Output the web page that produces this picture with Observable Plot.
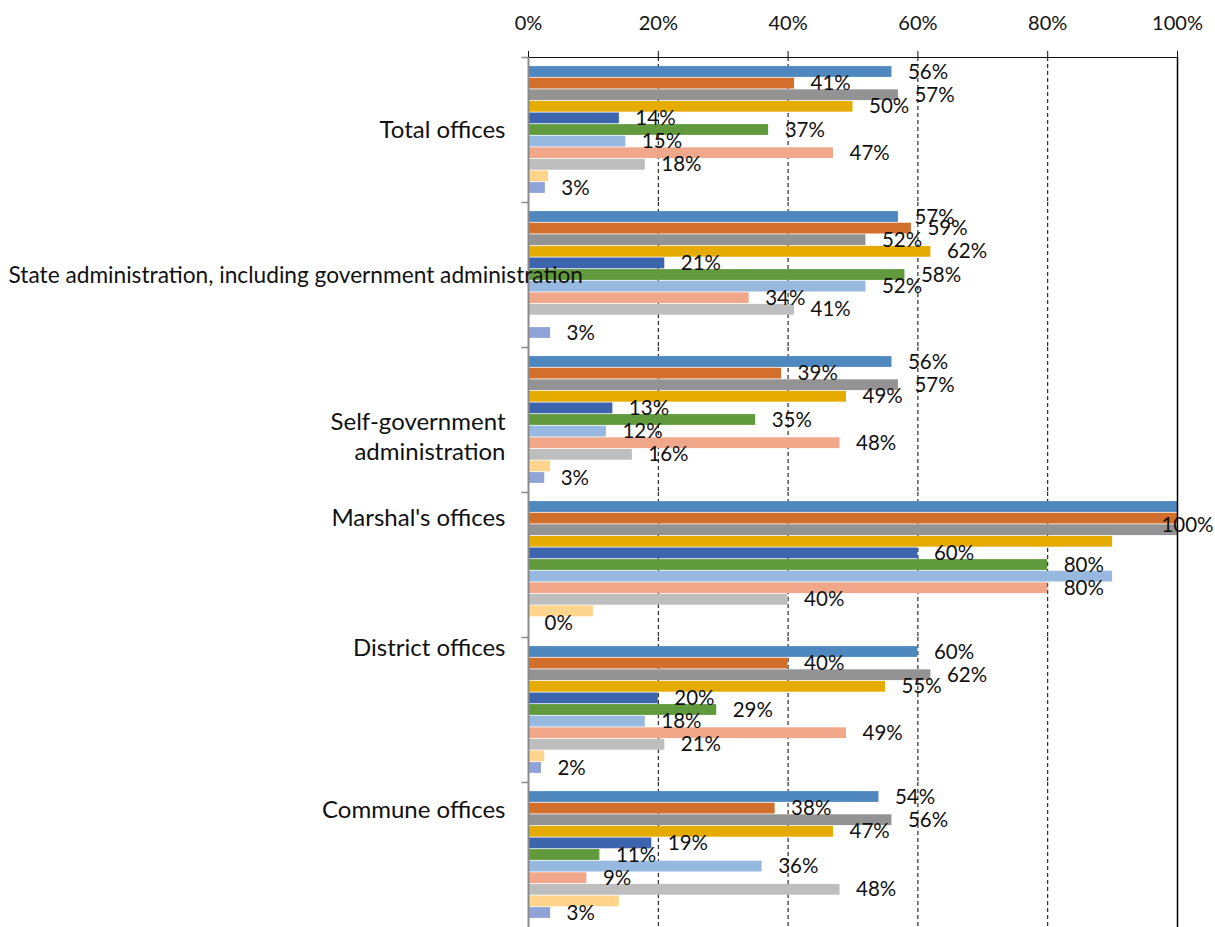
<!DOCTYPE html>
<html>
<head>
<meta charset="utf-8">
<script src="https://cdn.jsdelivr.net/npm/d3@7"></script>
<script src="https://cdn.jsdelivr.net/npm/@observablehq/plot@0.6"></script>
<style>
  html, body { margin: 0; padding: 0; background: #fff; }
  #chart svg { display: block; }
  #chart [aria-label="x-axis tick"] { stroke: #8a8a8a; }
</style>
</head>
<body>
<div id="chart"></div>
<script>
// ---- Data (values in percent) ----
const categories = [
  "Total offices",
  "State administration, including government administration",
  "Self-government administration",
  "Marshal's offices",
  "District offices",
  "Commune offices"
];
const series = ["Series 1", "Series 2", "Series 3", "Series 4", "Series 5", "Series 6",
                "Series 7", "Series 8", "Series 9", "Series 10", "Series 11"];
const colors = ["#4F88BE", "#D36F2C", "#939393", "#E5AB00", "#3C65AE", "#619A3D",
                "#97B9E0", "#F0A78A", "#BEBEBE", "#FFD48C", "#8FA3D6"];

const totalOffices    = [56, 41, 57, 50, 14, 37, 15, 47, 18, 3.1, 2.6];
const stateAdmin      = [57, 59, 52, 62, 21, 58, 52, 34, 41, 0, 3.4];
const selfGovernment  = [56, 39, 57, 49, 13, 35, 12, 48, 16, 3.4, 2.5];
const marshalOffices  = [100, 100, 100, 90, 60, 80, 90, 80, 40, 10, 0];
const districtOffices = [60, 40, 62, 55, 20, 29, 18, 49, 21, 2.5, 2];
const communeOffices  = [54, 38, 56, 47, 19, 11, 36, 9, 48, 14, 3.4];
const valueLists = [totalOffices, stateAdmin, selfGovernment, marshalOffices, districtOffices, communeOffices];

const xTicks = [0, 20, 40, 60, 80, 100];
// series without data labels, and individual labels absent in the reference
const unlabeledSeries = ["Series 10"];
const hiddenLabels = [
  ["Marshal's offices", "Series 1"], ["Marshal's offices", "Series 2"],
  ["Marshal's offices", "Series 4"], ["Marshal's offices", "Series 7"]
];

// ---- Table ----
const rows = categories.flatMap((c, ci) => series.map((s, si) => ({
  cat: c, s, v: valueLists[ci][si],
  labelled: !unlabeledSeries.includes(s) && !hiddenLabels.some(([hc, hs]) => hc === c && hs === s)
})));
const labelRows = rows.filter(d => d.labelled && d.v < 100);
const fullRows = rows.filter(d => d.labelled && d.v >= 100);

// ---- Styling of category labels (reference places them irregularly) ----
const catLabelStyle = {
  "Total offices": {dy: -2, anchor: "end", dx: -23, size: 24, text: "Total offices"},
  "State administration, including government administration": {dy: -1, anchor: "start", dx: -520, size: 22.7, text: "State administration, including government administration"},
  "Self-government administration": {dy: 15, anchor: "end", dx: -23, size: 24, text: "Self-government\nadministration"},
  "Marshal's offices": {dy: -49, anchor: "end", dx: -23, size: 24, text: "Marshal's offices"},
  "District offices": {dy: -64, anchor: "end", dx: -23, size: 24, text: "District offices"},
  "Commune offices": {dy: -47, anchor: "end", dx: -23, size: 24, text: "Commune offices"}
};

const catMarks = categories.map(c => Plot.text([c], {
  fy: d => d,
  frameAnchor: "left",
  text: d => catLabelStyle[d].text,
  textAnchor: catLabelStyle[c].anchor,
  dx: catLabelStyle[c].dx,
  dy: catLabelStyle[c].dy,
  fontSize: catLabelStyle[c].size,
  lineHeight: 1.25,
  fill: "#111"
}));

const chart = Plot.plot({
  width: 1215,
  height: 927,
  marginTop: 57,
  marginLeft: 528,
  marginRight: 38,
  marginBottom: 0,
  style: {fontFamily: "Lato, 'Open Sans', sans-serif", fontSize: "20px", color: "#111", background: "#fff", overflow: "visible"},
  x: {domain: [0, 100], axis: "top", ticks: xTicks, tickFormat: d => d + "%", tickSize: 7, tickPadding: 21, line: true, label: null},
  y: {domain: series, axis: null, paddingInner: 0, paddingOuter: 0.75, round: false},
  fy: {domain: categories, axis: null, padding: 0, round: false},
  color: {domain: series, range: colors},
  marks: [
    Plot.ruleX([20, 40, 60, 80], {stroke: "#000", strokeWidth: 1, strokeDasharray: "4,3"}),
    Plot.barX(rows, {x: "v", y: "s", fy: "cat", fill: "s", insetTop: 0.4, insetBottom: 0.4}),
    Plot.ruleX([100], {stroke: "#000", strokeWidth: 1.5}),
    Plot.ruleX([0], {stroke: "#8a8a8a", strokeWidth: 2}),
    Plot.ruleY(categories, {fy: d => d, y: () => series[0], dy: -14.5, x1: -1, x2: 0, stroke: "#8a8a8a", strokeWidth: 1.5}),
    Plot.text(labelRows, {x: "v", y: "s", fy: "cat", text: d => Math.round(d.v) + "%", textAnchor: "start", dx: 16, fontSize: 20.5, fill: "#111"}),
    Plot.text(fullRows, {x: "v", y: "s", fy: "cat", text: d => Math.round(d.v) + "%", textAnchor: "end", dx: 36, dy: -5, fontSize: 20.5, fill: "#111"}),
    ...catMarks
  ]
});
document.getElementById("chart").appendChild(chart);
</script>
</body>
</html>
